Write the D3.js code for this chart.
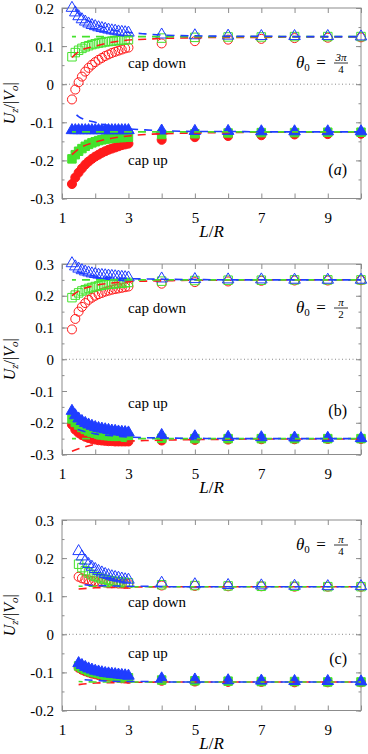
<!DOCTYPE html>
<html lang="en">
<head>
<meta charset="utf-8">
<title>Uz/|Vo| vs L/R</title>
<script src="https://d3js.org/d3.v7.min.js"></script>
<style>
  body { margin: 0; background: #fff; }
  svg text { font-family: "Liberation Serif", "Times New Roman", "DejaVu Serif", serif; fill: #000; }
</style>
</head>
<body>
<svg id="chart" width="368" height="754"></svg>
<script>
// colours
const red = "#ff1a1a", green = "#44e22c", blue = "#1f3dff", frameCol = "#8c8c8c"
const serif = '"Liberation Serif", "Times New Roman", "DejaVu Serif", serif'

// x positions of the simulations
const xNear = [1.3, 1.4, 1.5, 1.6, 1.7, 1.8, 1.9, 2.0, 2.1, 2.2, 2.3, 2.4, 2.5, 2.6, 2.7, 2.8, 2.9, 3.0]
const xNearC = [1.5, 1.6, 1.7, 1.8, 1.9, 2.0, 2.1, 2.2, 2.3, 2.4, 2.5, 2.6, 2.7, 2.8, 2.9, 3.0]
const xFar = [4, 5, 6, 7, 8, 9, 10]
const xTheory = [1.3, 1.5, 2, 2.5, 3, 3.5, 4, 5, 6, 7, 8, 9, 10]
const xTheoryC = [1.5, 2, 2.5, 3, 3.5, 4, 5, 6, 7, 8, 9, 10]

const xTicks = [1, 2, 3, 4, 5, 6, 7, 8, 9, 10]
const xTickLabels = [1, 3, 5, 7, 9]
const yTicksA = [-0.3, -0.2, -0.1, 0, 0.1, 0.2]
const yTicksB = [-0.3, -0.2, -0.1, 0, 0.1, 0.2, 0.3]
const yTicksC = [-0.2, -0.1, 0, 0.1, 0.2, 0.3]

// ---- panel (a): theta0 = 3pi/4
const aDownRed   = [-0.040, -0.014, 0.005, 0.020, 0.033, 0.043, 0.051, 0.058, 0.064, 0.069, 0.074, 0.078, 0.082, 0.085, 0.088, 0.091, 0.094, 0.096,
                    0.107, 0.113, 0.117, 0.119, 0.121, 0.122, 0.123]
const aDownGreen = [0.072, 0.083, 0.089, 0.094, 0.098, 0.101, 0.104, 0.106, 0.108, 0.109, 0.111, 0.112, 0.113, 0.114, 0.115, 0.116, 0.116, 0.117,
                    0.121, 0.123, 0.124, 0.124, 0.125, 0.125, 0.125]
const aDownBlue  = [0.200, 0.188, 0.178, 0.170, 0.164, 0.159, 0.155, 0.152, 0.149, 0.147, 0.145, 0.143, 0.141, 0.140, 0.138, 0.137, 0.136, 0.135,
                    0.130, 0.128, 0.127, 0.126, 0.126, 0.126, 0.125]
const aUpRed     = [-0.262, -0.245, -0.232, -0.221, -0.211, -0.203, -0.196, -0.190, -0.185, -0.180, -0.176, -0.172, -0.169, -0.166, -0.163, -0.160, -0.158, -0.156,
                    -0.146, -0.139, -0.136, -0.134, -0.132, -0.131, -0.130]
const aUpGreen   = [-0.196, -0.185, -0.176, -0.169, -0.163, -0.158, -0.154, -0.151, -0.148, -0.146, -0.144, -0.143, -0.142, -0.141, -0.140, -0.140, -0.139, -0.139,
                    -0.132, -0.130, -0.128, -0.127, -0.127, -0.126, -0.126]
const aUpBlue    = [-0.121, -0.121, -0.121, -0.121, -0.121, -0.121, -0.121, -0.121, -0.121, -0.121, -0.121, -0.121, -0.121, -0.121, -0.121, -0.121, -0.121, -0.121,
                    -0.122, -0.123, -0.123, -0.124, -0.124, -0.124, -0.124]
const aDownRedT   = [0.070, 0.085, 0.100, 0.110, 0.116, 0.118, 0.120, 0.122, 0.123, 0.123, 0.124, 0.124, 0.124]
const aDownGreenT = [0.125, 0.125, 0.125, 0.125, 0.125, 0.125, 0.125, 0.125, 0.125, 0.125, 0.125, 0.125, 0.125]
const aDownBlueT  = [0.210, 0.185, 0.158, 0.143, 0.136, 0.132, 0.129, 0.127, 0.126, 0.126, 0.125, 0.125, 0.125]
const aUpRedT     = [-0.185, -0.170, -0.152, -0.142, -0.136, -0.132, -0.130, -0.128, -0.127, -0.126, -0.126, -0.126, -0.126]
const aUpGreenT   = [-0.125, -0.125, -0.125, -0.125, -0.125, -0.125, -0.125, -0.125, -0.125, -0.125, -0.125, -0.125, -0.125]
const aUpBlueT    = [-0.070, -0.085, -0.100, -0.110, -0.117, -0.120, -0.122, -0.124, -0.124, -0.125, -0.125, -0.125, -0.125]

// ---- panel (b): theta0 = pi/2
const bDownRed   = [0.094, 0.127, 0.150, 0.165, 0.177, 0.187, 0.194, 0.200, 0.205, 0.209, 0.213, 0.216, 0.219, 0.221, 0.223, 0.225, 0.227, 0.229,
                    0.238, 0.243, 0.245, 0.247, 0.248, 0.248, 0.249]
const bDownGreen = [0.194, 0.202, 0.209, 0.215, 0.219, 0.223, 0.226, 0.229, 0.231, 0.233, 0.235, 0.236, 0.237, 0.238, 0.239, 0.240, 0.241, 0.242,
                    0.246, 0.248, 0.249, 0.249, 0.250, 0.250, 0.250]
const bDownBlue  = [0.302, 0.292, 0.285, 0.280, 0.276, 0.273, 0.270, 0.268, 0.266, 0.265, 0.264, 0.263, 0.262, 0.261, 0.260, 0.259, 0.258, 0.257,
                    0.254, 0.252, 0.251, 0.251, 0.250, 0.250, 0.250]
const bUpRed     = [-0.206, -0.222, -0.232, -0.239, -0.244, -0.248, -0.251, -0.253, -0.255, -0.256, -0.257, -0.258, -0.258, -0.259, -0.259, -0.259, -0.259, -0.259,
                    -0.256, -0.254, -0.253, -0.252, -0.252, -0.251, -0.251]
const bUpGreen   = [-0.188, -0.199, -0.207, -0.215, -0.221, -0.226, -0.230, -0.233, -0.236, -0.238, -0.240, -0.241, -0.242, -0.243, -0.244, -0.245, -0.245, -0.246,
                    -0.249, -0.250, -0.250, -0.250, -0.250, -0.250, -0.250]
const bUpBlue    = [-0.163, -0.177, -0.187, -0.195, -0.201, -0.206, -0.210, -0.214, -0.217, -0.219, -0.221, -0.223, -0.225, -0.226, -0.228, -0.229, -0.230, -0.231,
                    -0.239, -0.243, -0.245, -0.246, -0.247, -0.248, -0.249]
const bDownRedT   = [0.200, 0.215, 0.232, 0.240, 0.244, 0.246, 0.247, 0.249, 0.249, 0.250, 0.250, 0.250, 0.250]
const bDownGreenT = [0.250, 0.250, 0.250, 0.250, 0.250, 0.250, 0.250, 0.250, 0.250, 0.250, 0.250, 0.250, 0.250]
const bDownBlueT  = [0.285, 0.275, 0.262, 0.257, 0.254, 0.253, 0.252, 0.251, 0.250, 0.250, 0.250, 0.250, 0.250]
const bUpRedT     = [-0.290, -0.282, -0.268, -0.262, -0.258, -0.256, -0.255, -0.253, -0.252, -0.251, -0.251, -0.251, -0.251]
const bUpGreenT   = [-0.250, -0.250, -0.250, -0.250, -0.250, -0.250, -0.250, -0.250, -0.250, -0.250, -0.250, -0.250, -0.250]
const bUpBlueT    = [-0.215, -0.222, -0.235, -0.241, -0.245, -0.247, -0.248, -0.249, -0.250, -0.250, -0.250, -0.250, -0.250]

// ---- panel (c): theta0 = pi/4
const cDownRed   = [0.151, 0.147, 0.144, 0.142, 0.140, 0.139, 0.138, 0.137, 0.136, 0.135, 0.134, 0.134, 0.133, 0.133, 0.132, 0.132,
                    0.128, 0.127, 0.126, 0.126, 0.125, 0.125, 0.125]
const cDownGreen = [0.184, 0.175, 0.167, 0.161, 0.156, 0.152, 0.149, 0.146, 0.144, 0.142, 0.140, 0.139, 0.138, 0.137, 0.136, 0.135,
                    0.130, 0.128, 0.127, 0.126, 0.126, 0.125, 0.125]
const cDownBlue  = [0.218, 0.204, 0.193, 0.184, 0.177, 0.171, 0.166, 0.162, 0.158, 0.155, 0.152, 0.150, 0.148, 0.146, 0.144, 0.143,
                    0.135, 0.131, 0.129, 0.128, 0.127, 0.126, 0.126]
const cUpRed     = [-0.088, -0.093, -0.097, -0.100, -0.103, -0.105, -0.107, -0.108, -0.110, -0.111, -0.112, -0.113, -0.114, -0.115, -0.116, -0.117,
                    -0.122, -0.124, -0.125, -0.125, -0.126, -0.126, -0.126]
const cUpGreen   = [-0.083, -0.088, -0.092, -0.096, -0.099, -0.101, -0.103, -0.105, -0.107, -0.108, -0.109, -0.110, -0.111, -0.112, -0.113, -0.114,
                    -0.120, -0.122, -0.123, -0.124, -0.124, -0.125, -0.125]
const cUpBlue    = [-0.076, -0.081, -0.086, -0.090, -0.093, -0.096, -0.098, -0.100, -0.102, -0.103, -0.104, -0.105, -0.106, -0.107, -0.108, -0.109,
                    -0.116, -0.119, -0.121, -0.122, -0.123, -0.123, -0.124]
const cDownRedT   = [0.119, 0.122, 0.123, 0.124, 0.124, 0.125, 0.125, 0.125, 0.125, 0.125, 0.125, 0.125]
const cDownGreenT = [0.126, 0.126, 0.125, 0.125, 0.125, 0.125, 0.125, 0.125, 0.125, 0.125, 0.125, 0.125]
const cDownBlueT  = [0.132, 0.128, 0.127, 0.126, 0.126, 0.125, 0.125, 0.125, 0.125, 0.125, 0.125, 0.125]
const cUpRedT     = [-0.132, -0.128, -0.127, -0.126, -0.126, -0.125, -0.125, -0.125, -0.125, -0.125, -0.125, -0.125]
const cUpGreenT   = [-0.124, -0.125, -0.125, -0.125, -0.125, -0.125, -0.125, -0.125, -0.125, -0.125, -0.125, -0.125]
const cUpBlueT    = [-0.118, -0.121, -0.123, -0.124, -0.124, -0.125, -0.125, -0.125, -0.125, -0.125, -0.125, -0.125]

// layout
const left = 62, right = 361, panelTop = 8, panelH = 190.5, panelStep = 256

const panels = [
  { x: xNear.concat(xFar), xt: xTheory, yDomain: [-0.3, 0.2], yTicks: yTicksA,
    down: [aDownRed, aDownGreen, aDownBlue], up: [aUpRed, aUpGreen, aUpBlue],
    downT: [aDownRedT, aDownGreenT, aDownBlueT], upT: [aUpRedT, aUpGreenT, aUpBlueT],
    num: "3π", den: "4", fracY: 55, tag: "a", tagItalic: true, tagY: 167,
    capDownY: 60, capUpY: 157 },
  { x: xNear.concat(xFar), xt: xTheory, yDomain: [-0.3, 0.3], yTicks: yTicksB,
    down: [bDownRed, bDownGreen, bDownBlue], up: [bUpRed, bUpGreen, bUpBlue],
    downT: [bDownRedT, bDownGreenT, bDownBlueT], upT: [bUpRedT, bUpGreenT, bUpBlueT],
    num: "π", den: "2", fracY: 44, tag: "b", tagItalic: false, tagY: 152,
    capDownY: 49, capUpY: 144 },
  { x: xNearC.concat(xFar), xt: xTheoryC, yDomain: [-0.2, 0.3], yTicks: yTicksC,
    down: [cDownRed, cDownGreen, cDownBlue], up: [cUpRed, cUpGreen, cUpBlue],
    downT: [cDownRedT, cDownGreenT, cDownBlueT], upT: [cUpRedT, cUpGreenT, cUpBlueT],
    num: "π", den: "4", fracY: 25, tag: "c", tagItalic: false, tagY: 144,
    capDownY: 87, capUpY: 138 }
]

const colours = [red, green, blue]
const svg = d3.select("#chart")

panels.forEach((p, pi) => {
  const top = panelTop + pi * panelStep
  const bottom = top + panelH
  const g = svg.append("g").attr("font-family", serif)

  const x = d3.scaleLinear().domain([1, 10]).range([left, right])
  const y = d3.scaleLinear().domain(p.yDomain).range([bottom, top])

  // zero line
  g.append("line")
    .attr("x1", left).attr("x2", right)
    .attr("y1", y(0)).attr("y2", y(0))
    .attr("stroke", "#888").attr("stroke-width", 1)
    .attr("stroke-dasharray", "1,2.5")

  // axes, ticks inward and mirrored
  const minorY = d3.range(p.yDomain[0], p.yDomain[1] + 1e-9, 0.05)
  const yl = g.append("g").attr("transform", `translate(${left},0)`)
    .call(d3.axisLeft(y).tickValues(p.yTicks).tickSize(-5).tickFormat(d => Math.abs(d) < 1e-9 ? "0" : d.toFixed(1)))
  const yr = g.append("g").attr("transform", `translate(${right},0)`)
    .call(d3.axisRight(y).tickValues(p.yTicks).tickSize(-5).tickFormat(""))
  const yml = g.append("g").attr("transform", `translate(${left},0)`)
    .call(d3.axisLeft(y).tickValues(minorY).tickSize(-2.5).tickFormat(""))
  const ymr = g.append("g").attr("transform", `translate(${right},0)`)
    .call(d3.axisRight(y).tickValues(minorY).tickSize(-2.5).tickFormat(""))
  const xb = g.append("g").attr("transform", `translate(0,${bottom})`)
    .call(d3.axisBottom(x).tickValues(xTicks).tickSize(-5).tickFormat(d => xTickLabels.includes(d) ? d : ""))
  const xtp = g.append("g").attr("transform", `translate(0,${top})`)
    .call(d3.axisTop(x).tickValues(xTicks).tickSize(-5).tickFormat(""))

  ;[yl, yr, yml, ymr, xb, xtp].forEach(a => {
    a.attr("font-family", serif)
    a.select(".domain").remove()
    a.selectAll(".tick line").attr("stroke", frameCol)
    a.selectAll("text").attr("font-size", 15).attr("fill", "#000")
  })
  yl.selectAll("text").attr("x", -8).attr("dy", "0.34em")
  xb.selectAll("text").attr("y", 14).attr("dy", "0.71em")

  // frame
  g.append("rect")
    .attr("x", left).attr("y", top)
    .attr("width", right - left).attr("height", bottom - top)
    .attr("fill", "none").attr("stroke", frameCol).attr("stroke-width", 1)

  // markers
  const shapes = [d3.symbolCircle, d3.symbolSquare, d3.symbolTriangle]
  const sizes = [64, 72, 58]
  const drawSet = (sets, filled) => {
    sets.forEach((vals, k) => {
      const sym = d3.symbol().type(shapes[k]).size(sizes[k])
      g.append("g").selectAll("path")
        .data(vals.map((v, i) => [p.x[i], v]))
        .join("path")
        .attr("d", sym)
        .attr("transform", d => `translate(${x(d[0])},${y(d[1])})`)
        .attr("fill", filled ? colours[k] : "none")
        .attr("stroke", colours[k])
        .attr("stroke-width", 1)
    })
  }
  drawSet(p.down, false)
  drawSet(p.up, true)

  // theory curves (dashed)
  const line = d3.line().x(d => x(d[0])).y(d => y(d[1])).curve(d3.curveMonotoneX)
  const dashOffsets = [0, 4, 8]
  ;[p.downT, p.upT].forEach(sets => {
    sets.forEach((vals, k) => {
      g.append("path")
        .attr("d", line(vals.map((v, i) => [p.xt[i], v])))
        .attr("fill", "none")
        .attr("stroke", colours[k])
        .attr("stroke-width", 1.6)
        .attr("stroke-dasharray", "8,6")
        .attr("stroke-dashoffset", dashOffsets[k])
    })
  })

  // labels
  g.append("text").attr("x", x(2.99)).attr("y", top + p.capDownY)
    .attr("font-size", 15).text("cap down")
  g.append("text").attr("x", x(2.99)).attr("y", top + p.capUpY)
    .attr("font-size", 15).text("cap up")

  // theta_0 = fraction
  const barY = top + p.fracY
  const th = g.append("text").attr("x", 296).attr("y", barY + 5).attr("font-size", 17)
  th.append("tspan").attr("font-style", "italic").text("θ")
  th.append("tspan").attr("font-size", 11).attr("dy", 3).text("0")
  g.append("text").attr("x", 321).attr("y", barY + 5).attr("font-size", 17)
    .attr("text-anchor", "middle").text("=")
  g.append("line").attr("x1", 334).attr("x2", 348).attr("y1", barY).attr("y2", barY)
    .attr("stroke", "#000").attr("stroke-width", 0.8)
  g.append("text").attr("x", 341).attr("y", barY - 2.5).attr("font-size", 11)
    .attr("text-anchor", "middle").attr("font-style", "italic").text(p.num)
  g.append("text").attr("x", 341).attr("y", barY + 9.5).attr("font-size", 11)
    .attr("text-anchor", "middle").text(p.den)

  // panel tag
  const tg = g.append("text").attr("x", 347).attr("y", top + p.tagY)
    .attr("font-size", 16).attr("text-anchor", "end")
  tg.append("tspan").text("(")
  tg.append("tspan").attr("font-style", p.tagItalic ? "italic" : "normal").text(p.tag)
  tg.append("tspan").text(")")

  // x label
  const xl = g.append("text").attr("x", (left + right) / 2).attr("y", bottom + 38)
    .attr("font-size", 17).attr("text-anchor", "middle").attr("font-style", "italic")
  xl.append("tspan").text("L")
  xl.append("tspan").attr("font-style", "normal").text("/")
  xl.append("tspan").text("R")

  // y label
  const ylab = g.append("text")
    .attr("transform", `translate(15,${(top + bottom) / 2}) rotate(-90)`)
    .attr("font-size", 16).attr("text-anchor", "middle")
  ylab.append("tspan").attr("font-style", "italic").text("U")
  ylab.append("tspan").attr("font-style", "italic").attr("font-size", 11).attr("dy", 3).text("z")
  ylab.append("tspan").attr("dy", -3).text("/|")
  ylab.append("tspan").attr("font-style", "italic").text("V")
  ylab.append("tspan").attr("font-style", "italic").attr("font-size", 11).attr("dy", 3).text("o")
  ylab.append("tspan").attr("dy", -3).text("|")
})
</script>
</body>
</html>
